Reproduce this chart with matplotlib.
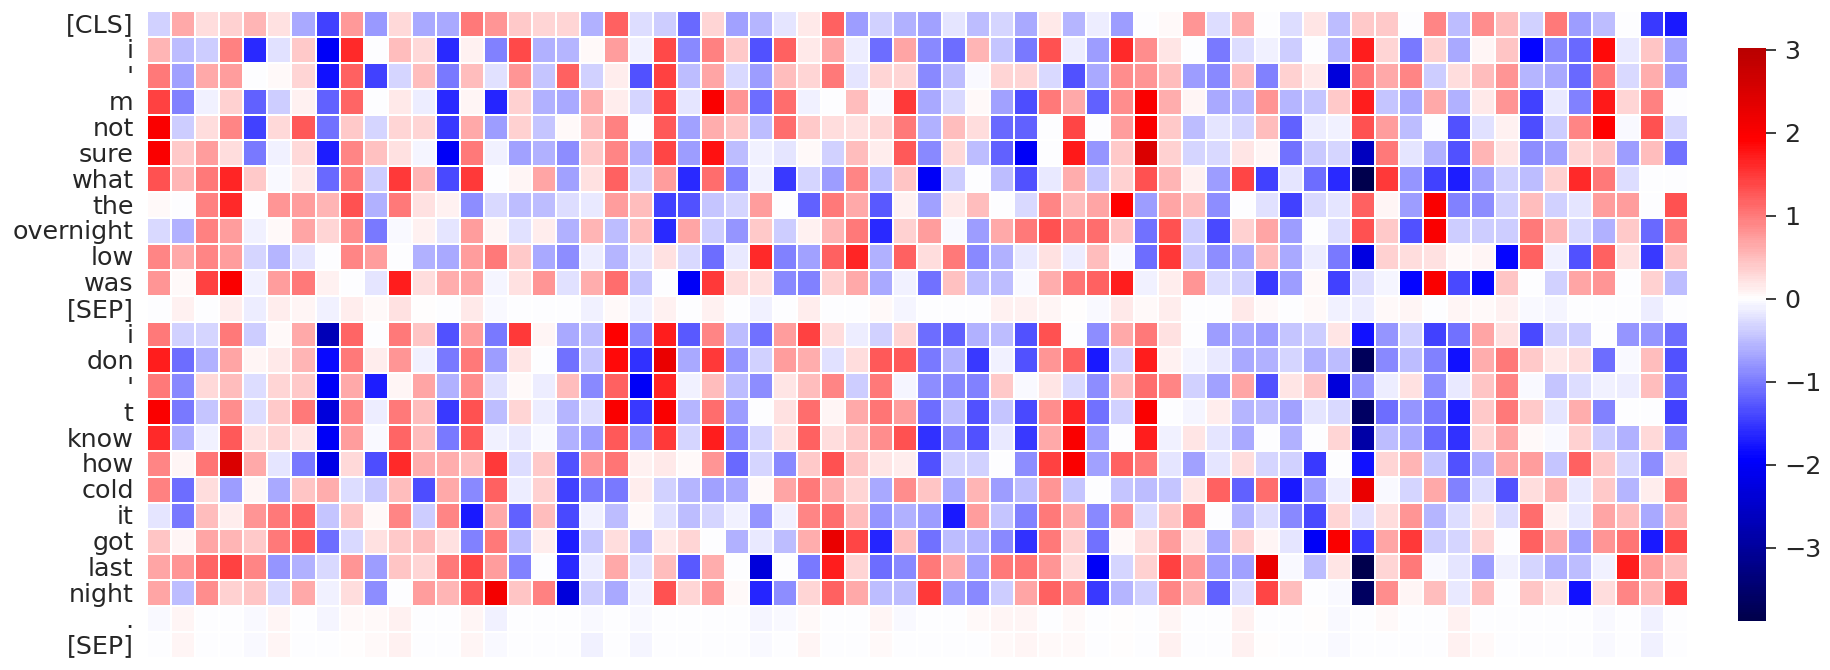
import matplotlib
matplotlib.use("Agg")
import matplotlib.pyplot as plt
from matplotlib.transforms import ScaledTranslation
import numpy as np
import seaborn as sns

tokens = ["[CLS]", "i", "'", "m", "not", "sure", "what", "the", "overnight", "low", "was", "[SEP]",
          "i", "don", "'", "t", "know", "how", "cold", "it", "got", "last", "night", ".", "[SEP]"]

r00 = [-0.34,0.65,0.25,0.35,0.55,0.22,-0.67,-1.45,0.78,-0.78,0.28,-0.65,-0.65,1.0,0.8,0.4,0.3,0.3,-0.6,1.2,-0.25,-0.4,-1.15,0.3,-0.72,-0.55,-0.2,0.14,1.2,-0.75,-0.35,-0.6,-0.7,-0.2,-0.5,-0.3,-0.65,0.18,-0.55,-0.14,-0.75,0.0,0.04,0.8,-0.25,0.6,0.0,-0.25,0.2,-0.5,0.4,0.4,0.0,0.9,-0.5,0.85,0.5,-0.35,1.0,-0.75,-0.5,0.0,-1.5,-1.75]
r01 = [0.55,-0.5,-0.4,0.95,-1.6,-0.22,0.42,-2.0,1.6,0.0,0.5,0.28,-1.6,0.1,-0.95,1.35,-0.6,-0.55,0.04,0.75,-0.12,1.35,-0.9,0.95,0.4,-1.3,1.2,0.14,0.7,-0.14,-1.1,0.7,-0.9,-1.1,0.55,-0.45,-1.0,1.3,-0.14,-0.75,1.6,0.85,0.2,-0.02,-1.0,-0.25,-0.1,-0.4,0.0,-0.55,1.7,0.3,-1.0,0.35,-0.65,0.08,0.45,-1.9,-0.9,-1.15,1.85,-0.18,0.45,-0.7]
r02 = [1.0,-0.7,0.65,0.75,0.0,0.04,0.3,-1.8,1.2,-1.45,-0.3,0.5,-1.0,0.5,-0.22,0.8,-0.45,1.2,-0.35,0.12,-1.3,1.45,-0.5,0.7,-0.28,-0.75,0.5,0.3,1.0,-0.2,0.3,0.3,-0.9,-0.5,-0.04,0.3,0.3,-0.28,-1.3,-0.65,0.85,0.8,0.5,-0.75,-0.9,0.5,-0.95,0.35,0.15,-2.3,1.0,0.65,0.9,-0.4,0.25,0.5,0.8,-0.55,-0.65,-1.15,1.0,-0.28,0.6,-0.7]
r03 = [1.45,-0.95,-0.08,0.35,-1.2,-0.38,0.1,-1.2,1.15,0.0,0.15,-0.14,-1.6,0.06,-1.65,0.35,-0.6,-0.65,0.6,0.12,-0.32,1.4,-0.2,2.0,0.8,-1.1,1.1,-0.1,0.0,0.5,-0.03,1.5,-0.65,-0.28,0.04,-0.7,-1.35,1.0,0.65,-1.2,0.85,2.0,0.62,0.08,-0.65,-0.55,0.8,-0.55,-0.45,0.4,1.7,-0.45,-0.65,0.65,-0.6,0.15,0.8,-1.45,-0.18,-0.95,1.75,0.3,0.95,0.0]
r04 = [2.0,-0.4,0.25,0.9,-1.45,0.28,1.25,-1.05,0.4,-0.32,0.3,0.3,-1.5,0.65,-0.75,0.35,-0.45,0.03,0.5,0.95,0.0,1.25,-0.7,0.6,0.45,-0.5,1.1,0.4,0.27,0.22,0.3,1.0,-0.6,0.5,0.27,-1.15,-1.2,-0.02,1.4,-0.02,0.75,2.0,0.4,-0.5,-0.2,-0.3,0.5,-1.2,-0.14,-0.12,1.3,0.75,-0.5,0.0,-1.3,-0.24,0.1,-1.35,-0.4,0.9,1.9,-0.03,1.3,-0.32]
r05 = [2.0,0.4,0.75,0.25,-1.0,-0.12,0.28,-1.7,0.9,0.48,0.22,-0.07,-2.0,1.0,-0.12,-0.7,-0.6,-0.85,0.4,0.9,-0.6,1.4,-0.75,1.8,-0.5,-0.08,-0.2,0.05,-0.35,0.5,0.12,1.25,-0.9,0.28,-0.5,-1.2,-2.0,0.0,1.75,-0.8,0.42,2.5,0.35,-0.3,-0.28,0.2,0.08,-1.05,-0.42,-0.3,-2.6,1.0,-0.2,-0.6,-1.3,0.55,0.2,-0.85,-0.7,0.3,0.45,-0.75,0.5,-1.05]
r06 = [1.3,0.55,1.0,1.65,0.4,-0.03,0.18,-1.15,1.0,-0.4,1.5,0.55,-1.4,1.5,-0.02,0.08,0.7,-0.7,0.22,1.2,-0.3,0.75,-1.6,1.1,-0.95,-0.08,-1.5,-0.3,-0.75,0.9,-0.5,0.45,-2.0,-0.4,-0.02,-0.5,-1.3,-0.18,0.6,-0.45,0.35,1.3,0.55,0.1,-0.75,1.4,-1.45,-0.2,-1.1,-1.6,-3.88,1.5,-0.8,-1.45,-1.7,-0.7,-0.35,-0.5,0.35,1.6,1.0,-0.25,0.0,0.0]
r07 = [0.03,0.0,0.95,1.6,0.0,0.8,0.75,0.55,1.3,-0.6,1.0,0.22,0.1,-0.85,-0.27,-0.5,-0.5,-0.25,-0.18,0.75,0.5,-1.45,-1.3,-0.45,-0.32,0.75,0.0,-1.2,1.0,0.65,-1.25,0.1,-0.7,0.18,0.5,0.0,-0.27,0.9,0.5,0.7,1.9,-0.75,0.7,0.5,-0.85,0.0,-0.22,-1.45,-0.27,-0.2,1.2,0.06,-0.75,2.0,-0.95,-0.85,-0.35,0.5,-0.35,-0.2,0.75,0.75,0.0,1.3]
r08 = [-0.28,-0.6,0.95,0.75,-0.08,0.03,0.7,0.3,0.85,-1.0,-0.04,0.1,-0.2,0.75,0.08,-0.22,0.12,-0.6,0.55,-0.5,0.5,-1.6,0.7,-0.4,-0.8,0.4,-0.4,0.1,0.55,1.0,-1.6,0.35,0.75,-0.03,-0.75,0.65,1.0,1.3,1.0,1.1,0.45,-1.05,1.3,-0.4,-1.4,0.35,0.7,-0.75,0.0,-0.25,1.3,0.4,-1.3,2.0,-0.4,-0.4,-0.4,1.0,0.55,-0.28,-0.6,0.4,-1.15,1.0]
r09 = [0.9,0.65,0.9,0.75,-0.32,-0.55,-0.2,0.0,0.9,0.75,0.0,-0.6,-0.65,0.75,1.0,0.4,-0.65,-0.85,-0.14,-0.55,-0.2,0.22,-0.28,-1.1,-0.17,1.6,-0.95,-0.7,1.2,1.65,-0.6,1.2,0.25,1.0,-0.9,-0.6,-0.17,0.22,-0.15,0.5,-0.03,-1.1,1.5,-0.42,-0.85,-0.65,0.5,-0.65,-0.15,-1.0,-2.25,0.35,0.27,0.22,0.03,0.08,-1.9,1.2,-0.08,-1.3,1.2,0.22,-1.5,0.45]
r10 = [0.8,0.03,1.45,2.0,-0.12,0.75,1.0,0.1,0.0,-0.2,1.7,0.25,0.6,0.7,-0.07,0.22,0.8,-0.22,0.6,1.1,-0.45,0.0,-2.0,1.5,0.25,0.22,-0.9,-0.95,0.35,0.65,-0.67,-0.08,-1.05,0.48,-0.5,-0.5,-0.03,0.6,1.05,1.2,1.7,-0.1,0.12,0.8,-0.25,-0.35,-1.5,-0.75,0.04,-1.45,-0.25,-0.06,-1.9,2.0,-1.4,-1.9,0.45,0.0,-0.35,0.7,0.8,0.0,0.35,-0.5]
r11 = [-0.01,0.1,0.0,0.12,-0.15,0.13,0.08,-0.08,0.12,0.04,0.22,0.02,0.0,0.18,-0.03,0.0,0.0,0.0,-0.08,0.05,-0.12,0.1,0.0,0.1,-0.01,-0.08,0.0,0.12,-0.01,0.0,0.03,-0.07,0.0,0.0,0.0,0.1,0.1,0.07,0.02,-0.03,0.14,0.04,0.12,0.0,0.0,0.15,0.05,0.0,0.03,-0.12,-0.15,0.05,0.08,0.0,0.08,0.04,0.1,-0.03,-0.06,0.0,0.0,0.0,-0.15,-0.02]
r12 = [1.0,-0.35,-0.3,1.0,-0.4,0.05,0.65,-2.7,1.15,0.0,1.0,0.45,-1.3,0.75,-1.0,1.5,0.08,-0.65,-0.5,1.95,-0.9,1.7,-1.25,0.9,-0.5,-1.05,0.75,1.45,0.25,-0.15,-0.35,0.3,-1.1,-1.2,-0.6,-0.5,-1.3,1.3,0.0,-0.85,0.65,1.0,0.22,0.0,-0.75,-0.65,-0.75,-0.45,-0.4,0.2,-1.8,-0.8,-0.35,-1.45,-1.05,0.7,0.22,-1.4,-0.35,-0.4,0.0,-0.8,-0.8,-1.1]
r13 = [1.7,-1.1,-0.6,0.7,0.06,0.15,0.55,-1.85,1.0,0.13,0.8,-0.08,-1.0,1.0,-0.75,0.2,0.0,-1.05,-0.45,1.85,-1.55,2.25,-0.65,1.5,-0.8,-0.35,0.75,0.6,-0.22,0.27,1.25,1.25,-1.0,-0.6,-1.5,-0.08,-1.3,0.8,1.2,-1.75,-0.35,1.7,0.1,-0.07,-0.18,-0.65,-0.6,-0.3,-0.6,-0.5,-3.7,-0.9,-0.5,-0.95,-1.8,0.6,1.0,0.4,0.15,0.25,-1.1,-0.03,0.5,-1.3]
r14 = [1.0,-0.9,0.28,0.5,-0.25,0.3,0.4,-2.0,0.65,-1.7,0.08,0.7,-0.6,0.85,-0.22,0.03,-0.15,0.5,-0.9,1.2,-2.0,1.65,-0.1,0.5,-0.5,-0.85,0.2,0.5,0.9,-0.4,1.0,-0.07,-0.85,-0.9,-0.95,0.4,-0.03,0.2,-0.27,-0.85,0.5,1.1,0.9,-0.35,-0.7,0.7,-1.3,0.2,0.45,-2.3,-0.8,-0.15,0.22,-0.85,-0.17,0.45,0.9,-0.03,-0.45,-0.25,-0.1,-0.14,0.5,-1.1]
r15 = [2.0,-1.0,-0.45,0.85,-0.25,0.4,1.0,-2.3,0.9,-0.15,1.0,0.5,-1.5,1.3,-0.5,0.3,-0.15,-0.55,-0.25,2.0,-1.5,2.0,-0.55,1.1,-0.75,-0.02,0.22,1.1,0.08,0.65,1.05,0.75,-1.1,-0.5,-1.3,-0.45,-1.4,0.85,1.65,-1.05,-0.35,2.0,0.0,-0.07,0.13,-0.55,-0.5,-0.7,-0.2,-0.27,-3.6,-1.1,-0.8,-1.0,-1.7,0.4,1.0,0.4,-0.2,0.6,-0.95,0.0,0.0,-1.45]
r16 = [1.6,-0.6,-0.13,1.25,0.22,0.3,0.2,-2.0,0.75,-0.03,1.15,0.5,-1.0,1.25,-0.13,-0.18,-0.04,-0.6,-0.75,1.25,-0.8,1.5,-0.3,1.7,-0.9,-0.3,0.22,1.2,0.25,0.4,0.85,1.3,-1.55,-0.95,-1.3,-0.17,-1.5,0.65,2.0,-0.75,-0.02,1.7,-0.12,0.2,-0.2,-0.67,0.0,-0.6,0.0,0.3,-2.9,-0.5,-0.67,-1.15,-1.55,0.3,0.7,0.03,-0.03,0.35,-0.4,-0.6,0.28,-0.9]
r17 = [0.9,0.06,1.05,2.5,0.65,-0.2,-1.0,-2.2,0.28,-1.35,1.6,0.6,0.6,0.5,1.5,-0.25,0.4,-1.3,0.8,1.05,0.1,0.14,0.03,0.8,-1.15,-0.3,-0.9,0.4,1.3,0.45,0.2,0.12,-1.3,-0.32,-0.35,0.0,-0.85,1.45,2.0,-0.7,1.2,1.0,-0.2,-0.7,-0.2,0.25,-0.3,-0.35,-1.5,0.0,-1.8,0.3,0.55,-0.45,-1.3,-0.6,0.65,0.75,-0.45,1.2,0.4,-0.3,-0.85,0.25]
r18 = [0.95,-1.1,0.25,-0.75,0.06,-0.67,0.45,0.6,-0.25,-0.42,0.5,-1.35,0.65,-0.9,1.2,-0.15,0.35,-1.45,-1.0,-1.0,0.13,-0.35,-0.55,-0.7,-0.67,0.03,0.7,1.0,0.6,0.3,-0.65,0.85,0.45,-0.67,0.55,-0.75,-0.5,0.8,-0.45,0.0,-0.45,-0.5,-0.45,0.2,1.2,-1.2,1.1,-1.75,-0.75,-0.15,2.25,-0.03,-0.3,0.65,-0.95,-0.25,-1.3,0.25,0.55,-0.18,0.4,-0.55,0.13,1.0]
r19 = [-0.2,-1.0,0.5,0.13,0.8,1.0,1.15,-0.45,0.45,0.04,0.9,-0.4,0.9,-1.75,0.65,-1.2,0.5,-1.4,-0.08,-0.5,0.03,-0.22,-0.5,-0.3,-0.08,-0.8,-0.08,0.9,1.1,0.5,-0.8,-0.6,-0.75,-1.75,0.75,-0.45,-0.95,1.0,0.65,-0.9,0.85,-0.25,0.45,1.0,0.0,-0.55,-0.25,-0.9,-1.4,0.3,-0.22,0.25,0.8,-0.55,-0.25,0.2,-0.25,1.1,0.1,-0.18,0.7,0.5,-0.65,0.55]
r20 = [0.45,0.06,0.7,0.55,0.4,1.0,1.25,-1.1,-0.27,0.22,0.4,0.5,0.22,-0.95,1.0,-0.5,0.13,-1.7,-0.45,0.25,-0.55,0.15,0.3,0.0,-0.6,-0.18,-0.5,0.6,2.25,1.4,-1.65,0.5,-1.05,-0.5,-0.55,-0.9,-1.55,1.0,0.35,-1.05,0.04,0.27,0.75,0.2,-0.65,0.35,0.06,-0.2,-2.0,2.0,-1.5,0.7,1.5,-0.4,-0.3,0.3,0.0,1.2,0.65,-0.7,0.8,1.05,-1.75,1.4]
r21 = [0.7,0.8,1.15,1.45,0.9,-0.8,-0.6,-0.27,0.8,-0.75,0.45,0.3,1.0,1.4,0.75,-0.95,-0.02,-1.6,-0.15,0.65,-0.22,0.5,-1.25,0.6,0.0,-2.3,0.0,-1.0,1.7,0.3,-1.1,-0.9,1.0,0.65,-0.7,1.0,1.05,0.8,0.25,-2.0,-0.32,0.35,1.45,0.8,-0.75,-0.7,2.25,-0.03,-0.5,0.2,-3.85,0.3,1.0,-0.03,-0.2,-0.75,-0.1,-0.32,-0.6,-0.5,-0.13,1.7,0.75,0.5]
r22 = [0.7,-0.5,0.85,0.35,0.45,-0.28,0.65,-0.12,0.25,-0.85,0.0,0.75,0.55,1.25,2.1,0.45,0.95,-2.3,-0.4,-0.65,-0.12,1.3,0.3,0.8,0.03,-1.65,-0.85,0.3,1.2,0.65,-0.5,-0.5,1.5,-0.75,-0.9,-0.4,0.7,1.2,0.9,-1.5,-0.55,-0.35,0.9,0.55,-1.2,-0.25,1.4,0.5,0.0,-0.03,-3.65,0.85,0.08,0.5,-0.18,0.5,0.0,0.45,0.2,-1.8,0.25,0.9,0.55,1.5]
r23 = [-0.04,0.07,0.0,-0.01,-0.04,0.07,0.0,-0.07,0.03,0.03,0.1,0.0,-0.01,0.07,-0.08,0.0,0.0,0.0,-0.04,0.0,-0.04,0.0,-0.01,0.0,-0.01,-0.07,-0.03,0.04,0.0,0.0,0.06,-0.04,0.0,0.0,0.03,0.06,0.07,0.0,0.03,0.0,0.02,0.0,0.06,0.0,0.0,0.1,0.0,-0.01,0.01,-0.04,-0.01,0.03,0.0,0.0,0.1,0.0,0.0,-0.01,0.0,0.0,-0.04,0.0,-0.1,0.0]
r24 = [-0.01,0.07,0.0,0.0,-0.04,0.07,0.0,0.0,0.02,0.03,0.1,0.0,0.0,0.07,-0.03,0.0,0.0,0.0,-0.08,0.0,-0.07,0.0,0.0,0.0,-0.01,-0.03,0.0,0.08,0.0,0.0,0.03,0.0,0.0,0.0,0.0,0.05,0.06,0.03,0.04,0.0,0.02,0.0,0.09,0.0,0.0,0.1,0.01,-0.01,0.0,-0.04,0.0,0.0,0.0,0.0,0.1,0.04,0.0,0.0,0.0,0.0,-0.04,0.0,-0.1,0.0]

rows = [r00,r01,r02,r03,r04,r05,r06,r07,r08,r09,r10,r11,r12,r13,r14,r15,r16,r17,r18,r19,r20,r21,r22,r23,r24]
data = np.array(rows)

W, H = 1831, 670
sns.set_theme(style="white")
fig = plt.figure(figsize=(W/100, H/100), dpi=100)
ax = fig.add_axes([147/W, 1-658/H, (1688-147)/W, (658-11)/H])
cax = fig.add_axes([1738/W, 1-621/H, 28/W, (621-48)/H])

sns.heatmap(data, ax=ax, cbar_ax=cax, cmap="seismic", center=0, vmin=-3.88, vmax=3.02,
            linewidths=1.4, linecolor="white", xticklabels=False, yticklabels=tokens)
ax.tick_params(axis="y", length=0, labelsize=18.3, labelcolor="#262626", pad=9.6, rotation=0)
shift = ScaledTranslation(0, -1.5/100, fig.dpi_scale_trans)
for label in ax.get_yticklabels():
    label.set_transform(label.get_transform() + shift)
cax.tick_params(axis="y", length=7.4, width=1.25, color="#262626", labelsize=18.3, labelcolor="#262626", pad=6, right=True)
cax.set_yticks([-3, -2, -1, 0, 1, 2, 3])
fig.savefig("out.png", dpi=100)
